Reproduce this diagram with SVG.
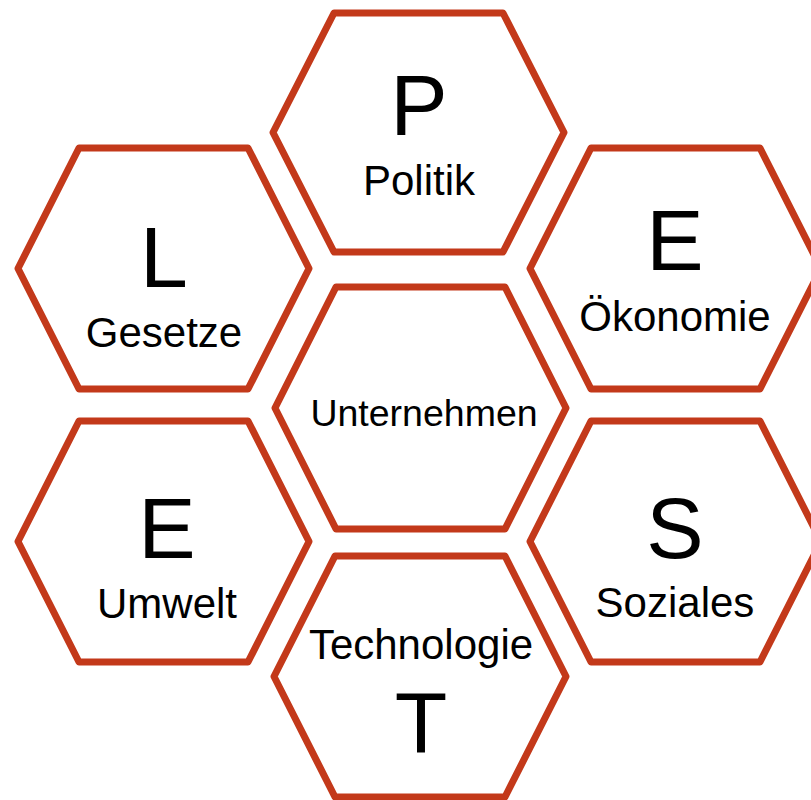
<svg xmlns="http://www.w3.org/2000/svg" width="811" height="800" viewBox="0 0 811 800">
<defs>
<style>
.hex{fill:#ffffff;stroke:#C3391A;stroke-width:7;stroke-linejoin:round}
.big{font-family:"Liberation Sans",Arial,sans-serif;font-size:86px;fill:#000;text-anchor:middle}
.sub{font-family:"Liberation Sans",Arial,sans-serif;font-size:42px;fill:#000;text-anchor:middle}
.mid{font-family:"Liberation Sans",Arial,sans-serif;font-size:37.5px;fill:#000;text-anchor:middle}
</style>
</defs>
<rect width="811" height="800" fill="#ffffff"/>
<g id="connectors"></g>
<g id="node-p">
<polygon class="hex" points="273,132.5 334,13 503,13 564,132.5 503,252 334,252"/>
<text class="big" x="419" y="135">P</text>
<text class="sub" x="419" y="195">Politik</text>
</g>
<g id="node-l">
<polygon class="hex" points="18,268.5 79,148 248,148 309,268.5 248,389 79,389"/>
<text class="big" x="164" y="287">L</text>
<text class="sub" x="164" y="347">Gesetze</text>
</g>
<g id="node-e-oekonomie">
<polygon class="hex" points="530,268.5 591,148 760,148 821,268.5 760,389 591,389"/>
<text class="big" x="675" y="270">E</text>
<text class="sub" x="675" y="331">Ökonomie</text>
</g>
<g id="node-center">
<polygon class="hex" points="275,408 336,287 505,287 566,408 505,529 336,529"/>
<text class="mid" x="424" y="426">Unternehmen</text>
</g>
<g id="node-e-umwelt">
<polygon class="hex" points="18,541.5 79,421 248,421 309,541.5 248,662 79,662"/>
<text class="big" x="167" y="558">E</text>
<text class="sub" x="167" y="618">Umwelt</text>
</g>
<g id="node-s">
<polygon class="hex" points="530,541.5 591,421 760,421 821,541.5 760,662 591,662"/>
<text class="big" x="675" y="558">S</text>
<text class="sub" x="675" y="617">Soziales</text>
</g>
<g id="node-t">
<polygon class="hex" points="274,676.5 335,556 505,556 566,676.5 505,797 335,797"/>
<text class="sub" x="421" y="659">Technologie</text>
<text class="big" x="421" y="752">T</text>
</g>
</svg>
